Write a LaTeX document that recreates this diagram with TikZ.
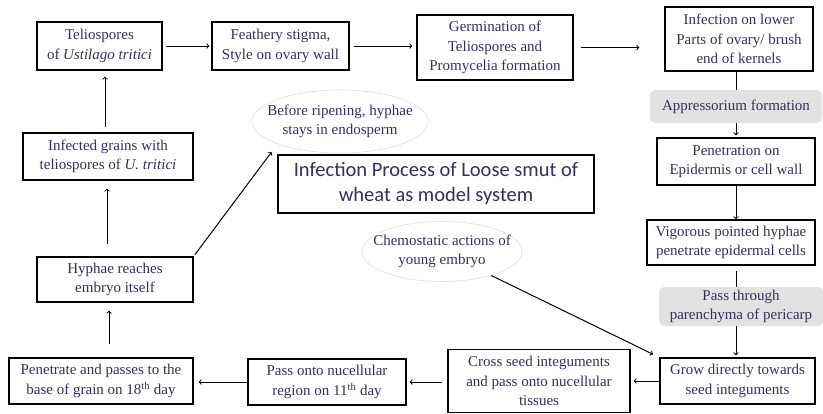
\documentclass[tikz,border=0pt]{standalone}
\usepackage{fontspec}
\setmainfont{Liberation Serif}
\newfontfamily\titlefont{Carlito}
\usepackage{tikz}
\usetikzlibrary{arrows,positioning,calc,shapes}
\definecolor{txtnavy}{RGB}{50,50,88}
\definecolor{notegray}{RGB}{226,226,226}

\begin{document}
\begin{tikzpicture}[x=1pt,y=-1pt,
	stepbox/.style={draw,line width=1.3pt,fill=white,align=center,text=txtnavy,font=\fontsize{15}{19.5}\selectfont,inner sep=1pt},
	notebox/.style={fill=notegray,rounded corners=5pt,align=center,text=txtnavy,font=\fontsize{15}{19.5}\selectfont,inner sep=1pt},
	cloud/.style={ellipse,draw=black!12,line width=0.6pt,align=center,text=txtnavy,font=\fontsize{15}{19}\selectfont,inner xsep=-14pt,inner ysep=4pt},
	arr/.style={->,>=to,line width=1pt},
	link/.style={line width=1pt}]
	\useasboundingbox (0,0) rectangle (823,413);
	% top row
	\node[stepbox,minimum width=125pt,minimum height=48pt] (telio) at (99.5,46) {Teliospores\\of \textit{Ustilago tritici}};
	\node[stepbox,minimum width=137pt,minimum height=48pt] (stigma) at (280.5,46) {Feathery stigma,\\Style on ovary wall};
	\node[stepbox,minimum width=156pt,minimum height=65pt] (germ) at (495,47.5) {Germination of\\Teliospores and\\Promycelia formation};
	\node[stepbox,minimum width=148pt,minimum height=64pt] (lower) at (739,39) {Infection on lower\\Parts of ovary/ brush\\end of kernels};
	% right column
	\node[notebox,minimum width=172pt,minimum height=33pt] (appress) at (736,106.5) {Appressorium formation};
	\node[stepbox,minimum width=158pt,minimum height=47pt] (penet) at (736,161.5) {Penetration on\\Epidermis or cell wall};
	\node[stepbox,minimum width=168pt,minimum height=45pt] (vigor) at (731,242.5) {Vigorous pointed hyphae\\penetrate epidermal cells};
	\node[notebox,minimum width=164pt,minimum height=39pt] (parench) at (741,306.5) {Pass through\\parenchyma of pericarp};
	\node[stepbox,minimum width=155pt,minimum height=46pt] (grow) at (737.5,381) {Grow directly towards\\seed integuments};
	% bottom row
	\node[stepbox,minimum width=182pt,minimum height=63pt] (cross) at (539,381) {Cross seed integuments\\and pass onto nucellular\\tissues};
	\node[stepbox,minimum width=158pt,minimum height=46pt] (nucell) at (327,382) {Pass onto nucellular\\region on 11\textsuperscript{th} day};
	\node[stepbox,minimum width=184pt,minimum height=46pt] (base) at (101,381) {Penetrate and passes to the\\base of grain on 18\textsuperscript{th} day};
	% left column
	\node[stepbox,minimum width=156pt,minimum height=45pt] (hyph) at (115,279.5) {Hyphae reaches\\embryo itself};
	\node[stepbox,minimum width=170pt,minimum height=47pt] (infgr) at (108,156.5) {Infected grains with\\teliospores of \textit{U. tritici}};
	% middle
	\node[stepbox,minimum width=316pt,minimum height=58pt,font=\titlefont\fontsize{20.5}{25}\selectfont] (title) at (436,184) {Infection Process of Loose smut of\\wheat as model system};
	\node[cloud,minimum width=176pt,minimum height=63pt] (ripen) at (340,121.5) {Before ripening, hyphae\\stays in endosperm};
	\node[cloud,minimum width=160pt,minimum height=60pt] (chemo) at (442,251.5) {Chemostatic actions of\\young embryo};

	\draw[arr,shorten <=3pt,shorten >=2pt] (telio) -- (stigma);
	\draw[arr,shorten <=4pt,shorten >=4pt] (stigma.east) -- (stigma.east -| germ.west);
	\draw[arr,shorten <=7pt,shorten >=25pt] (germ.east) -- (germ.east -| lower.west);
	\draw[link] (lower.south -| appress.north) -- (appress.north);
	\draw[arr,shorten >=2pt] (appress.south) -- (appress.south |- penet.north);
	\draw[arr] (penet.south) -- (penet.south |- vigor.north);
	\draw[link,shorten <=5pt] (vigor.south -| penet.south) -- (parench.north -| penet.south);
	\draw[arr,shorten >=2pt] (parench.south -| penet.south) -- (grow.north -| penet.south);
	\draw[arr,shorten >=3pt] (grow.west) -- (grow.west -| cross.east);
	\draw[arr,shorten <=5pt,shorten >=3pt] (cross.west |- nucell.east) -- (nucell.east);
	\draw[arr,shorten >=5pt] (nucell.west) -- (nucell.west -| base.east);
	\draw[arr,shorten <=13pt,shorten >=8pt] (base.north -| 109,0) -- (hyph.south -| 109,0);
	\draw[arr,shorten <=12pt,shorten >=8pt] (hyph.north -| 107,0) -- (infgr.south -| 107,0);
	\draw[arr,shorten <=5pt,shorten >=6pt] (infgr.north -| 105,0) -- (telio.south -| 105,0);
	\draw[arr,shorten <=2pt,shorten >=10pt] (hyph.north east) -- (ripen.south west);
	\draw[arr,shorten >=7pt] (chemo) -- (grow.north west);
\end{tikzpicture}
\end{document}
